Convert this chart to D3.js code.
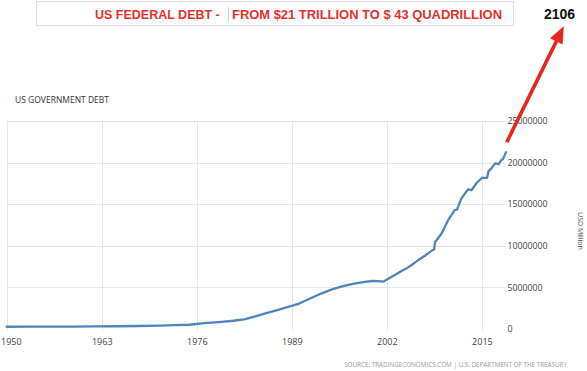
<!DOCTYPE html>
<html>
<head>
<meta charset="utf-8">
<script src="https://cdn.jsdelivr.net/npm/d3@7"></script>
<style>
  html, body { margin: 0; padding: 0; background: #fff; }
  svg { display: block; }
</style>
</head>
<body>
<div id="chart"></div>
<script>
// US government debt, USD million
const years = [1950, 1953, 1956, 1959, 1962, 1965, 1968, 1971, 1973, 1975,
  1977, 1979, 1981, 1982.5, 1984, 1985.5, 1987, 1988.5, 1990, 1991.5,
  1993, 1994.5, 1996, 1997.5, 1999, 2000, 2000.8, 2001.5, 2002.3, 2003.1,
  2004, 2004.7, 2005.5, 2006.3, 2007.2, 2008.2, 2008.45, 2008.6, 2009, 2009.5,
  2010, 2010.4, 2011.3, 2011.6, 2012.2, 2013.1, 2013.6, 2014.3, 2015.0, 2015.7,
  2015.9, 2016.3, 2016.8, 2017.3, 2017.6, 2017.9, 2018.3];
const debt = [257000, 266000, 272000, 285000, 300000, 317000, 347000, 398000, 458000, 500000,
  690000, 820000, 980000, 1150000, 1500000, 1900000, 2250000, 2650000, 3050000, 3650000,
  4250000, 4750000, 5150000, 5450000, 5650000, 5760000, 5740000, 5680000, 6080000, 6480000,
  6950000, 7280000, 7750000, 8280000, 8800000, 9450000, 9550000, 10450000, 10900000, 11500000,
  12400000, 13100000, 14300000, 14350000, 15700000, 16780000, 16700000, 17570000, 18150000, 18150000,
  18950000, 19300000, 19900000, 19800000, 20250000, 20450000, 21250000];

const xTicks = [1950, 1963, 1976, 1989, 2002, 2015];
const yTicks = [0, 5000000, 10000000, 15000000, 20000000, 25000000];

const headline = ["US FEDERAL DEBT -", "FROM $21 TRILLION TO $ 43 QUADRILLION"];
const callout = "2106";
const chartTitle = "US GOVERNMENT DEBT";
const unitLabel = "USD Million";
const sourceText = "SOURCE: TRADINGECONOMICS.COM | U.S. DEPARTMENT OF THE TREASURY";

const W = 587, H = 371;
const red = "#e2322a";

const svg = d3.select("#chart").append("svg")
  .attr("width", W).attr("height", H);

// --- scales ---
const x = d3.scaleLinear().domain([1950, 2018.35]).range([6.7, 506.4]);
const y = d3.scaleLinear().domain([0, 25000000]).range([328.9, 121]);

// --- headline box ---
svg.append("rect")
  .attr("x", 36.5).attr("y", 1.5).attr("width", 477).attr("height", 24)
  .attr("fill", "#fff").attr("stroke", "#dcdcdc");
svg.append("line")
  .attr("x1", 228.5).attr("x2", 228.5).attr("y1", 7).attr("y2", 22)
  .attr("stroke", "#cfcfcf");
svg.append("text")
  .attr("x", 95).attr("y", 18.5)
  .attr("font-family", "Liberation Sans, Arial, sans-serif")
  .attr("font-weight", "bold").attr("font-size", "12.5px")
  .attr("fill", red)
  .text(headline[0]);
svg.append("text")
  .attr("x", 232).attr("y", 18.5)
  .attr("font-family", "Liberation Sans, Arial, sans-serif")
  .attr("font-weight", "bold").attr("font-size", "12.5px")
  .attr("fill", red)
  .attr("textLength", 270).attr("lengthAdjust", "spacingAndGlyphs")
  .text(headline[1]);
svg.append("text")
  .attr("x", 544).attr("y", 18.5)
  .attr("font-family", "Liberation Sans, Arial, sans-serif")
  .attr("font-weight", "bold").attr("font-size", "14px")
  .attr("fill", "#111")
  .text(callout);

// --- chart title ---
svg.append("text")
  .attr("x", 15).attr("y", 103)
  .attr("font-family", "Open Sans, sans-serif")
  .attr("font-size", "8.5px").attr("fill", "#333")
  .text(chartTitle);

// --- grid ---
const grid = svg.append("g").attr("stroke", "#e6e6e6").attr("stroke-width", 1);
grid.selectAll("line.h")
  .data(yTicks.filter(d => d > 0))
  .join("line")
  .attr("class", "h")
  .attr("x1", x(1950)).attr("x2", x.range()[1] - 1)
  .attr("y1", d => Math.round(y(d)) + 0.5).attr("y2", d => Math.round(y(d)) + 0.5);
grid.selectAll("line.v")
  .data(xTicks)
  .join("line")
  .attr("class", "v")
  .attr("x1", d => Math.round(x(d)) + 0.5).attr("x2", d => Math.round(x(d)) + 0.5)
  .attr("y1", y(25000000)).attr("y2", y(0) + 2);

// --- axes ---
const xAxis = svg.append("g")
  .attr("transform", `translate(0,${y(0)})`)
  .call(d3.axisBottom(x).tickValues(xTicks).tickFormat(d3.format("d")).tickSize(0).tickPadding(10));
xAxis.select(".domain").remove();
xAxis.selectAll("text")
  .attr("font-family", "Open Sans, sans-serif")
  .attr("font-size", "9px").attr("fill", "#444");
// first label sits flush with the left edge, as in the source
xAxis.selectAll(".tick text").filter(d => d === xTicks[0])
  .attr("text-anchor", "start").attr("x", -x(xTicks[0]) + 0.5);

const yAxis = svg.append("g")
  .attr("transform", `translate(${x.range()[1]},0)`)
  .call(d3.axisRight(y).tickValues(yTicks).tickFormat(d3.format("d")).tickSize(0).tickPadding(1));
yAxis.select(".domain").remove();
yAxis.selectAll("text")
  .attr("font-family", "Open Sans, sans-serif")
  .attr("font-size", "8.8px").attr("fill", "#444");

svg.append("text")
  .attr("transform", `translate(578,${(y(0) + y(25000000)) / 2 + 6}) rotate(90)`)
  .attr("text-anchor", "middle")
  .attr("font-family", "Open Sans, sans-serif")
  .attr("font-size", "7px").attr("fill", "#444")
  .text(unitLabel);

// --- line ---
const pts = years.map((yr, i) => [yr, debt[i]]);
svg.append("path")
  .datum(pts)
  .attr("fill", "none")
  .attr("stroke", "#5084c0")
  .attr("stroke-width", 2.3)
  .attr("stroke-linejoin", "round")
  .attr("stroke-linecap", "round")
  .attr("d", d3.line().x(d => x(d[0])).y(d => y(d[1])));

// --- source ---
svg.append("text")
  .attr("x", 567).attr("y", 367)
  .attr("text-anchor", "end")
  .attr("font-family", "Open Sans, sans-serif")
  .attr("font-size", "6.3px").attr("fill", "#9a9a9a")
  .text(sourceText);

// --- red arrow (annotation, from end of series up to the callout) ---
const tail = [x(2018.4), y(22450000)];
const tip = [x(2026.2), y(36400000)];
const dx = tip[0] - tail[0], dy = tip[1] - tail[1];
const len = Math.hypot(dx, dy);
const ux = dx / len, uy = dy / len;
const headLen = 17, headHalf = 7;
const base = [tip[0] - ux * headLen, tip[1] - uy * headLen];
svg.append("line")
  .attr("x1", tail[0]).attr("y1", tail[1])
  .attr("x2", base[0] + ux * 2).attr("y2", base[1] + uy * 2)
  .attr("stroke", "#e8281c").attr("stroke-width", 3.6);
svg.append("path")
  .attr("fill", "#e8281c")
  .attr("d", d3.line()([
    tip,
    [base[0] - uy * headHalf, base[1] + ux * headHalf],
    [base[0] + uy * headHalf, base[1] - ux * headHalf]
  ]) + "Z");
</script>
</body>
</html>
